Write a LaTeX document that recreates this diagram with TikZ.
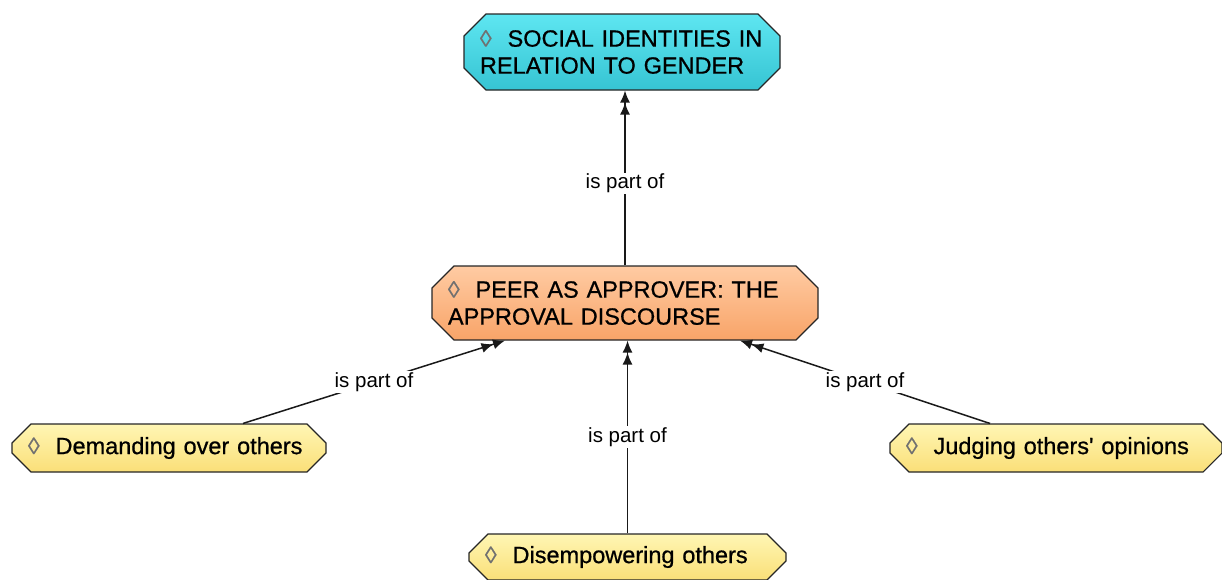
\documentclass[tikz,border=0pt]{standalone}
\usepackage{fontspec}
\setmainfont{Liberation Sans}
\newfontfamily\nodefont{Liberation Sans}[FakeBold=0.7]
\usetikzlibrary{shapes.misc,arrows.meta}
\definecolor{cyanTop}{HTML}{5EE6F1}
\definecolor{cyanBot}{HTML}{36C4D3}
\definecolor{orTop}{HTML}{FFCBA3}
\definecolor{orBot}{HTML}{F8A468}
\definecolor{yeTop}{HTML}{FFF6B4}
\definecolor{yeBot}{HTML}{FADF78}
\definecolor{lozGray}{HTML}{707070}
\newcommand{\loz}{{\color{lozGray}◊}\hspace{0.68em}}
\begin{document}
\begin{tikzpicture}[x=1pt,y=-1pt,
  codebox/.style={chamfered rectangle, chamfered rectangle xsep=9pt, chamfered rectangle ysep=13pt,
    draw=black!85, line width=1.1pt, inner xsep=7pt, inner ysep=0pt, align=left,
    font=\nodefont\fontsize{23.5}{27}\selectfont},
  topbox/.style={codebox, top color=cyanTop, bottom color=cyanBot},
  midbox/.style={codebox, top color=orTop, bottom color=orBot},
  leafbox/.style={codebox, top color=yeTop, bottom color=yeBot, chamfered rectangle ysep=10pt},
  arr/.style={draw=black!90, line width=1.5pt,
    -{Latex[length=12pt,width=10pt] Latex[length=12pt,width=10pt]}},
  lbl/.style={fill=white, inner sep=1pt, font=\fontsize{20.5}{23}\selectfont, midway}
]
\useasboundingbox (0,0) rectangle (1222,579);

\node[topbox, text width=284pt, minimum height=76pt] (soc) at (622,52)
  {\loz SOCIAL IDENTITIES IN\\RELATION TO GENDER};
\node[midbox, text width=354pt, minimum height=74pt] (peer) at (625,303)
  {\loz PEER AS APPROVER: THE\\APPROVAL DISCOURSE};
\node[leafbox, text width=282pt, minimum height=48pt] (dem) at (169,448)
  {\loz Demanding over others};
\node[leafbox, text width=300pt, minimum height=48pt] (jud) at (1056,448)
  {\loz Judging others\textquotesingle{} opinions};
\node[leafbox, text width=285pt, minimum height=46pt] (dis) at (627.5,557)
  {\loz Disempowering others};

\draw[arr] (peer.north) -- (peer.north |- soc.south) node[lbl, pos=0.47] {is part of};
\draw[arr] ([xshift=74pt]dem.north) -- ([xshift=-120pt]peer.south) node[lbl] {is part of};
\draw[arr] ([xshift=-66pt]jud.north) -- ([xshift=115pt]peer.south) node[lbl] {is part of};
\draw[arr] (dis.north) -- (dis.north |- peer.south) node[lbl] {is part of};
\end{tikzpicture}
\end{document}
